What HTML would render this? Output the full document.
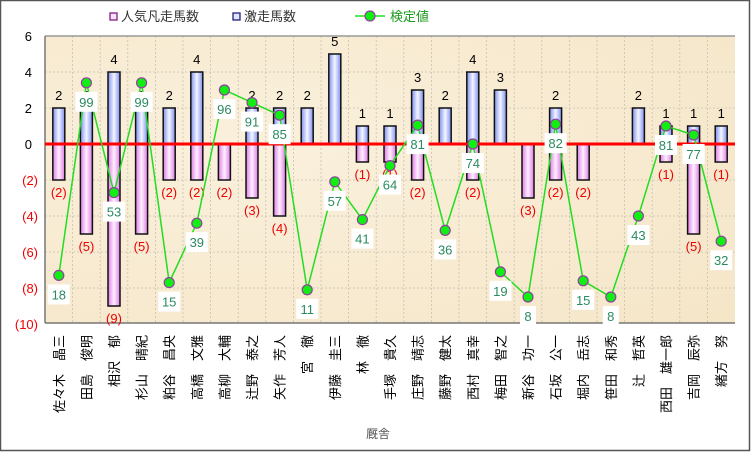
<!DOCTYPE html>
<html><head><meta charset="utf-8">
<style>
html,body{margin:0;padding:0;background:#fff;}
svg{display:block;font-family:"Liberation Sans","Noto Sans CJK JP",sans-serif;}
</style></head>
<body>
<svg id="c" width="751" height="453" xmlns="http://www.w3.org/2000/svg">
<defs>
<linearGradient id="gb" x1="0" x2="1" y1="0" y2="0">
<stop offset="0" stop-color="#7f8ff0"/><stop offset="0.5" stop-color="#f4f6ff"/><stop offset="1" stop-color="#7f8ff0"/></linearGradient>
<linearGradient id="gp" x1="0" x2="1" y1="0" y2="0">
<stop offset="0" stop-color="#e07be6"/><stop offset="0.5" stop-color="#fdf0fd"/><stop offset="1" stop-color="#e07be6"/></linearGradient>
<radialGradient id="bg" cx="0.3" cy="0.4" r="0.9">
<stop offset="0" stop-color="#faf0dc"/><stop offset="1" stop-color="#f5e6c8"/></radialGradient>
</defs>
<rect x="0.5" y="0.5" width="749" height="450" fill="#fff" stroke="#555" stroke-width="1.5"/>
<rect x="45" y="36" width="690" height="287" fill="url(#bg)"/>
<g id="g"></g>
</svg>
<script>
const g=document.getElementById('g');
let s='';
const L=45,R=735,W=27.6;
const Y=v=>144-18*v;
for(let i=1;i<25;i++){const x=L+W*i;s+=`<line x1="${x}" y1="36" x2="${x}" y2="323" stroke="#c8c0b0" stroke-dasharray="2,2" stroke-width="0.8"/>`;}
for(let v=-8;v<=4;v+=2){if(v==0)continue;s+=`<line x1="${L}" y1="${Y(v)}" x2="${R}" y2="${Y(v)}" stroke="#c8c0b0" stroke-dasharray="2,2" stroke-width="0.8"/>`;}
s+=`<line x1="${L}" y1="36" x2="${R}" y2="36" stroke="#999" stroke-width="1.5"/>`;
s+=`<line x1="${L}" y1="36" x2="${L}" y2="323" stroke="#777" stroke-width="1.5"/>`;
s+=`<line x1="${L}" y1="323" x2="${R}" y2="323" stroke="#777" stroke-width="1.5"/>`;
for(let v=6;v>=-10;v-=2){const t=v<0?`(${-v})`:v;const col=v<0?'#e00':'#000';s+=`<text x="${v<0?38:32}" y="${Y(v)+5}" text-anchor="end" font-size="13" fill="${col}">${t}</text>`;}
const D=[
["佐々木 晶三",2,2,18,-7.3],["田島 俊明",2,5,99,3.4],["相沢 郁",4,9,53,-2.7],["杉山 晴紀",2,5,99,3.4],
["粕谷 昌央",2,2,15,-7.7],["高橋 文雅",4,2,39,-4.4],["高柳 大輔",0,2,96,3.0],["辻野 泰之",2,3,91,2.3],
["矢作 芳人",2,4,85,1.6],["宮 徹",2,0,11,-8.1],["伊藤 圭三",5,0,57,-2.1],["林 徹",1,1,41,-4.2],
["手塚 貴久",1,1,64,-1.2],["庄野 靖志",3,2,81,1.05],["藤野 健太",2,0,36,-4.8],["西村 真幸",4,2,74,0],
["梅田 智之",3,0,19,-7.1],["新谷 功一",0,3,8,-8.5],["石坂 公一",2,2,82,1.1],["堀内 岳志",0,2,15,-7.6],
["笹田 和秀",0,0,8,-8.5],["辻 哲英",2,0,43,-4.0],["西田 雄一郎",1,1,81,1.0],["吉岡 辰弥",1,5,77,0.5],["緒方 努",1,1,32,-5.4]];
let bars='',lbl='',pts=[];
D.forEach((d,i)=>{
 const cx=L+W*(i+0.5);
 if(d[1]>0){bars+=`<rect x="${cx-6}" y="${Y(d[1])}" width="12" height="${18*d[1]}" fill="url(#gb)" stroke="#111" stroke-width="1.5"/>`;
  lbl+=`<text x="${cx}" y="${Y(d[1])-8}" text-anchor="middle" font-size="13" fill="#000">${d[1]}</text>`;}
 if(d[2]>0){bars+=`<rect x="${cx-6}" y="144" width="12" height="${18*d[2]}" fill="url(#gp)" stroke="#111" stroke-width="1.5"/>`;
  lbl+=`<text x="${cx}" y="${Y(-d[2])+17}" text-anchor="middle" font-size="13" fill="#e00">(${d[2]})</text>`;}
 pts.push([cx,Y(d[4]),d[3]]);
 s+=`<text transform="translate(${cx+5},335) rotate(-90)" text-anchor="end" font-size="13" fill="#000">${d[0].replace(' ','\u3000')}</text>`;
});
s+=bars;
s+=`<line x1="${L}" y1="144" x2="${R}" y2="144" stroke="#f00" stroke-width="3"/>`;
s+=lbl;
s+=`<polyline points="${pts.map(p=>p[0]+','+p[1]).join(' ')}" fill="none" stroke="#22dd22" stroke-width="1.5"/>`;
pts.forEach(p=>{s+=`<circle cx="${p[0]}" cy="${p[1]}" r="5" fill="#11ee11" stroke="#9040a0" stroke-width="1.2"/>`;});
pts.forEach(p=>{const w=p[2]>=10?22:16;s+=`<rect x="${p[0]-w/2}" y="${p[1]+9}" width="${w}" height="20" fill="#fff"/><text x="${p[0]}" y="${p[1]+24}" text-anchor="middle" font-size="13" fill="#2a8a60">${p[2]}</text>`;});
s+=`<rect x="110" y="13" width="7" height="7" fill="#fbe0fb" stroke="#802080" stroke-width="1.3"/><text x="121" y="21" font-size="13" fill="#333">人気凡走馬数</text>`;
s+=`<rect x="233" y="13" width="7" height="7" fill="#e0e4ff" stroke="#202080" stroke-width="1.3"/><text x="244" y="21" font-size="13" fill="#333">激走馬数</text>`;
s+=`<line x1="355" y1="16" x2="385" y2="16" stroke="#22dd22" stroke-width="1.5"/><circle cx="370" cy="16" r="5" fill="#11ee11" stroke="#9040a0" stroke-width="1.2"/><text x="390" y="21" font-size="13" fill="#1a9a1a">検定値</text>`;
s+=`<text x="378" y="438" text-anchor="middle" font-size="12" fill="#555">厩舎</text>`;
g.innerHTML=s;
</script>
</body></html>
